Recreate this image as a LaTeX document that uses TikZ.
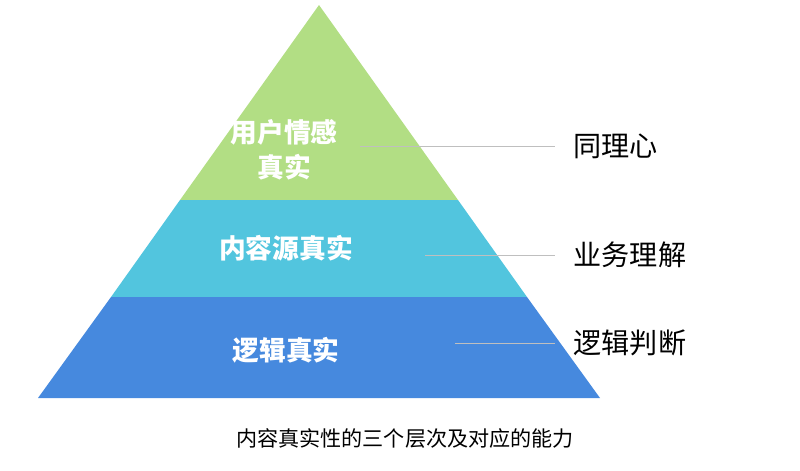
\documentclass[tikz,border=0pt]{standalone}
\usepackage{fontspec}
\setmainfont{Noto Sans CJK SC}
\begin{document}
\begin{tikzpicture}[x=0.025cm,y=-0.025cm,
    layer/.style={draw=none},
    inlabel/.style={text=white,font=\fontsize{19}{25}\selectfont\bfseries,align=center},
    outlabel/.style={anchor=west,inner sep=1pt,font=\fontsize{20}{24}\selectfont},
    leader/.style={draw=gray!50,line width=0.6pt}]
    % frame
    \useasboundingbox (0,0) rectangle (800,470);
    % pyramid points
    \coordinate (T) at (319,5);
    \coordinate (L1) at (180,200);
    \coordinate (R1) at (458,200);
    \coordinate (L2) at (111,297);
    \coordinate (R2) at (527,297);
    \coordinate (L3) at (38,398);
    \coordinate (R3) at (600,398);
    % layers
    \fill[layer,fill={rgb,255:red,178;green,222;blue,132}] (T) -- (R1) -- (L1) -- cycle;
    \fill[layer,fill={rgb,255:red,82;green,197;blue,222}] (L1) -- (R1) -- (R2) -- (L2) -- cycle;
    \fill[layer,fill={rgb,255:red,70;green,137;blue,222}] (L2) -- (R2) -- (R3) -- (L3) -- cycle;
    % labels inside
    \node[inlabel] (feel) at (284,150) {用户情感\\真实};
    \node[inlabel] (source) at (286,248) {内容源真实};
    \node[inlabel] (logic) at (286,350) {逻辑真实};
    % labels outside
    \node[outlabel] (empathy) at (572,146) {同理心};
    \node[outlabel] (business) at (572,255) {业务理解};
    \node[outlabel] (judge) at (572,343) {逻辑判断};
    \coordinate (s1) at (360,146);
    \coordinate (s2) at (425,255);
    \coordinate (s3) at (455,343);
    \draw[leader] (s1) -- ([xshift=-12pt]empathy.west);
    \draw[leader] (s2) -- ([xshift=-12pt]business.west);
    \draw[leader] (s3) -- ([xshift=-12pt]judge.west);
    % caption
    \node[font=\fontsize{15}{18}\selectfont] (caption) at (405,438) {内容真实性的三个层次及对应的能力};
\end{tikzpicture}
\end{document}
